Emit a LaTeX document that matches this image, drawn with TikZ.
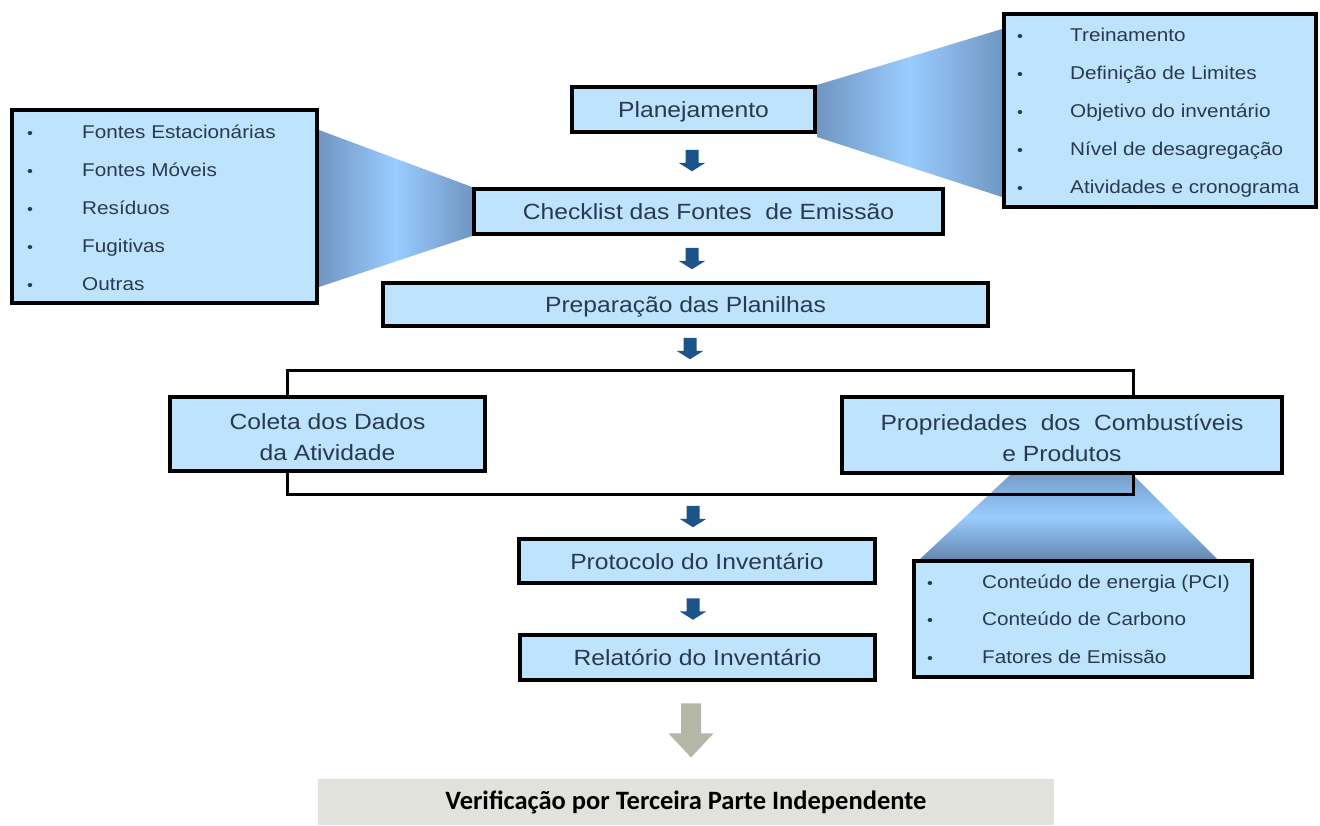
\documentclass[tikz,border=0pt]{standalone}
\usepackage{fontspec}
\newfontfamily\arialx{Liberation Sans}[FakeStretch=1.12]
\newfontfamily\calib{Carlito}
\usetikzlibrary{calc}
\pgfdeclarelayer{background}
\pgfsetlayers{background,main}
\definecolor{boxblue}{RGB}{189,228,252}
\definecolor{txt}{RGB}{40,58,80}
\definecolor{arrblue}{RGB}{28,84,138}
\definecolor{trapdark}{RGB}{112,150,194}
\definecolor{traplight}{RGB}{153,204,255}
\definecolor{greyarr}{RGB}{180,183,166}
\definecolor{greybox}{RGB}{226,226,220}
\tikzset{
  mainbox/.style={draw=black, line width=4pt, fill=boxblue, inner sep=0pt,
    font=\arialx\fontsize{22}{31}\selectfont, text=txt, align=center},
  oneline/.style={text height=16pt, text depth=0pt},
  twoline/.style={text height=52pt, text depth=0pt},
  listbox/.style={draw=black, line width=4pt, fill=boxblue, inner sep=0pt},
  frame/.style={draw=black, line width=3pt, inner sep=0pt},
  bul/.style={inner sep=0pt, anchor=base, font=\arialx\fontsize{15}{15}\selectfont, text=txt},
  item/.style={inner sep=0pt, anchor=base west, font=\arialx\fontsize{18.5}{22}\selectfont, text=txt},
  downarr/.pic={\fill[arrblue] (-6.5,-10.75) -- (6.5,-10.75) -- (6.5,2.25) -- (13.5,2.25) -- (0,10.75) -- (-13.5,2.25) -- (-6.5,2.25) -- cycle;},
  greydown/.pic={\fill[greyarr] (-10,-27) -- (10,-27) -- (10,3) -- (22.5,3) -- (0,27) -- (-22.5,3) -- (-10,3) -- cycle;}
}
\begin{document}
\begin{tikzpicture}[x=1pt,y=-1pt]
\useasboundingbox (0,0) rectangle (1320,825);

% outer frame around the two middle boxes
\node[frame, minimum width=846, minimum height=124] (frm) at (710.5,432.5) {};

% main boxes
\node[mainbox, oneline, minimum width=243, minimum height=45] (plan) at (693.5,109.5) {Planejamento};
\node[mainbox, oneline, minimum width=469, minimum height=45] (check) at (708.5,211.5) {Checklist das Fontes\ \ de Emissão};
\node[mainbox, oneline, minimum width=605, minimum height=43] (prep) at (685.5,304.5) {Preparação das Planilhas};
\node[mainbox, twoline, minimum width=315, minimum height=74] (coleta) at (327.5,434) {Coleta dos Dados\\da Atividade};
\node[mainbox, twoline, minimum width=440, minimum height=76] (prop) at (1062,435) {Propriedades\ \ dos\ \ Combustíveis\\e Produtos};
\node[mainbox, oneline, minimum width=356, minimum height=44] (proto) at (697,561) {Protocolo do Inventário};
\node[mainbox, oneline, minimum width=355, minimum height=45] (rel) at (697.5,657.5) {Relatório do Inventário};

% list boxes
\node[listbox, minimum width=305, minimum height=193] (ll) at (164.5,206.5) {};
\node[listbox, minimum width=312, minimum height=193] (rl) at (1160,110.5) {};
\node[listbox, minimum width=338, minimum height=116] (bl) at (1083,619) {};

% left list
\foreach \t [count=\i] in {Fontes Estacionárias, Fontes Móveis, Resíduos, Fugitivas, Outras} {
  \node[bul] (llb\i) at (30,{100+38*\i}) {\textbullet};
  \node[item] (llt\i) at (82,{100+38*\i}) {\t};
}
% right list
\foreach \t [count=\i] in {Treinamento, Definição de Limites, Objetivo do inventário, Nível de desagregação, Atividades e cronograma} {
  \node[bul] (rlb\i) at (1020,{3.7+37.9*\i}) {\textbullet};
  \node[item] (rlt\i) at (1070,{3.7+37.9*\i}) {\t};
}
% bottom-right list
\foreach \t [count=\i] in {Conteúdo de energia (PCI), Conteúdo de Carbono, Fatores de Emissão} {
  \node[bul] (blb\i) at (930,{550.5+37.5*\i}) {\textbullet};
  \node[item] (blt\i) at (982,{550.5+37.5*\i}) {\t};
}

% callout trapezoids
\begin{pgfonlayer}{background}
\shade[left color=trapdark, right color=trapdark, middle color=traplight]
  (plan.north east) -- ($(rl.north west)+(0,17)$) -- ($(rl.south west)+(0,-12)$) -- ($(plan.south east)+(0,3)$) -- cycle;
\shade[left color=trapdark, right color=trapdark, middle color=traplight]
  ($(ll.north east)+(0,22)$) -- (check.north west) -- (check.south west) -- ($(ll.south east)+(0,-18)$) -- cycle;
\shade[top color=trapdark!85!traplight, bottom color=trapdark!90!black, middle color=traplight]
  ($(prop.south west)+(170,0)$) -- ($(prop.south west)+(293,0)$) -- ($(bl.north west)+(305,0)$) -- ($(bl.north west)+(8,0)$) -- cycle;
\end{pgfonlayer}

% arrows
\path ($(plan.south)!0.5!(check.north)$) coordinate (a1m);
\path ($(check.south)!0.5!(prep.north)$) coordinate (a2m);
\path ($(prep.south)!0.5!(frm.north)$) coordinate (a3m);
\path ($(frm.south)!0.5!(proto.north)$) coordinate (a4m);
\path ($(proto.south)!0.5!(rel.north)$) coordinate (a5m);
\pic at (692,0 |- a1m) {downarr};
\pic at (692,0 |- a2m) {downarr};
\pic at (690,0 |- a3m) {downarr};
\pic at (693,0 |- a4m) {downarr};
\pic at (693,0 |- a5m) {downarr};

% verification
\node[fill=greybox, inner sep=0pt, minimum width=736, minimum height=46,
  font=\calib\bfseries\fontsize{26.5}{30}\selectfont, text=black] (ver) at (686,802) {Verificação por Terceira Parte Independente};
\path ($(rel.south)!0.5!(ver.north)$) coordinate (gm);
\pic at (691,0 |- gm) {greydown};
\end{tikzpicture}
\end{document}
